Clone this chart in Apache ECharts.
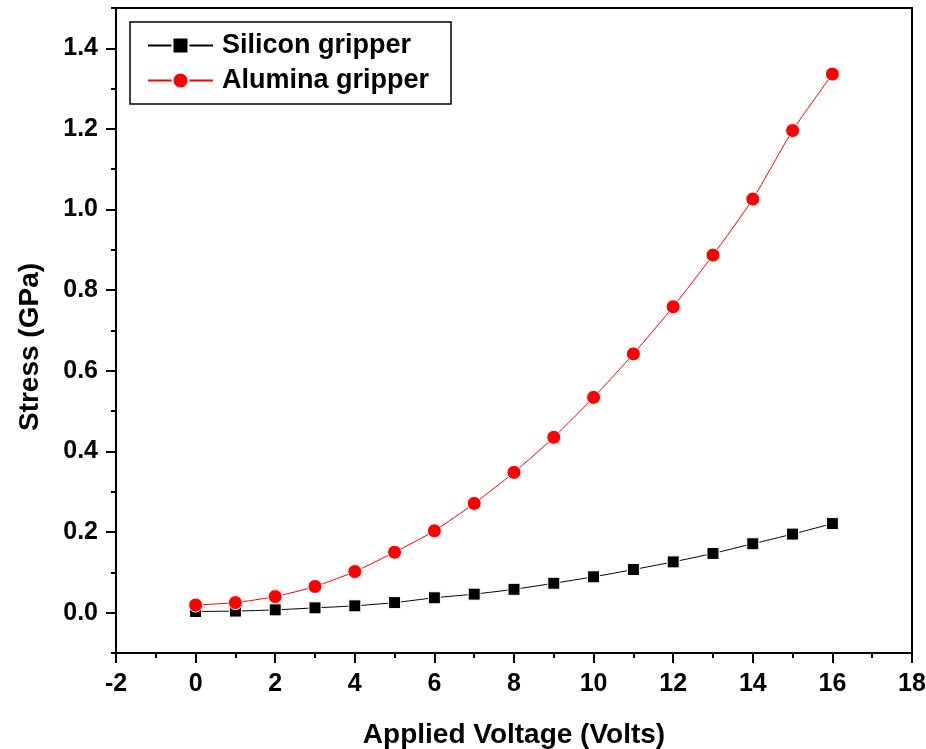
<!DOCTYPE html>
<html>
<head>
<meta charset="utf-8">
<script src="https://cdn.jsdelivr.net/npm/echarts@6/dist/echarts.min.js"></script>
<style>html,body{margin:0;padding:0;background:#fff}#c{width:926px;height:749px}</style>
</head>
<body>
<div id="c"></div>
<script>
const voltage = [0,1,2,3,4,5,6,7,8,9,10,11,12,13,14,15,16];
const silicon = [0.003,0.004,0.007,0.012,0.017,0.025,0.037,0.046,0.058,0.073,0.089,0.107,0.126,0.147,0.171,0.195,0.221];
const alumina = [0.019,0.025,0.040,0.065,0.102,0.150,0.203,0.271,0.348,0.435,0.534,0.642,0.759,0.887,1.026,1.196,1.336];
const yMajorTicks = [0,0.2,0.4,0.6,0.8,1.0,1.2,1.4];
const seriesNames = ['Silicon gripper','Alumina gripper'];
const xTitle = 'Applied Voltage (Volts)';
const yTitle = 'Stress (GPa)';

const FONT = '"Liberation Sans", Arial, sans-serif';
const chart = echarts.init(document.getElementById('c'), null, {renderer:'canvas'});
const pair = (xs, ys) => xs.map((x,i)=>[x, ys[i]]);

chart.setOption({
  animation:false,
  backgroundColor:'#fff',
  grid:{left:116,right:14,top:8,bottom:96,show:true,borderColor:'#000',borderWidth:2,backgroundColor:'transparent',
        outerBoundsMode:'none', containLabel:false},
  legend:{
    orient:'vertical', left:130, top:22,
    padding:[10,22,10,17], itemGap:8, itemWidth:65, itemHeight:20,
    borderColor:'#000', borderWidth:1.5, backgroundColor:'#fff',
    textStyle:{fontFamily:FONT, fontWeight:'bold', fontSize:27, color:'#000', padding:[0,0,0,4]},
    data: seriesNames
  },
  xAxis:{
    type:'value', min:-2, max:18, interval:2,
    name:xTitle, nameLocation:'middle', nameGap:68,
    nameTextStyle:{fontFamily:FONT, fontWeight:'bold', fontSize:28, color:'#000'},
    axisLine:{show:true, onZero:false, lineStyle:{color:'#000', width:2}},
    axisTick:{show:true, inside:false, length:10, lineStyle:{color:'#000', width:2}},
    minorTick:{show:true, splitNumber:2, length:5, lineStyle:{color:'#000', width:2}},
    splitLine:{show:false},
    axisLabel:{fontFamily:FONT, fontWeight:'bold', fontSize:25, color:'#000', margin:19, showMinLabel:true, showMaxLabel:true}
  },
  yAxis:[{
    type:'value', min:-0.1, max:1.5, interval:0.1,
    axisLine:{show:true, onZero:false, lineStyle:{color:'#000', width:2}},
    axisTick:{show:true, inside:false, length:5, lineStyle:{color:'#000', width:2}},
    splitLine:{show:false},
    axisLabel:{show:false}
  },{
    type:'value', min:-0.1, max:1.5, position:'left', offset:0,
    axisLine:{show:false, onZero:false},
    axisTick:{show:true, inside:false, length:10, customValues:yMajorTicks, lineStyle:{color:'#000', width:2}},
    splitLine:{show:false},
    axisLabel:{show:true, customValues:yMajorTicks, fontFamily:FONT, fontWeight:'bold', fontSize:25, color:'#000', margin:18,
      formatter:(v)=>v.toFixed(1)}
  }],
  graphic:[{
    type:'text', x:30, y:347, rotation:Math.PI/2,
    style:{text:yTitle, fontFamily:FONT, fontWeight:'bold', fontSize:28, fill:'#000', align:'center', verticalAlign:'middle'}
  }],
  series:[{
    name:seriesNames[0], type:'line', data:pair(voltage, silicon),
    symbol:'rect', symbolSize:12, smooth:0.2,
    lineStyle:{color:'#000', width:1},
    itemStyle:{color:'#000', borderColor:'#fff', borderWidth:1}
  },{
    name:seriesNames[1], type:'line', data:pair(voltage, alumina),
    symbol:'circle', symbolSize:14, smooth:0.2,
    lineStyle:{color:'#ff0000', width:1},
    itemStyle:{color:'#ff0000', borderColor:'#fff', borderWidth:1}
  }]
});
</script>
</body>
</html>
